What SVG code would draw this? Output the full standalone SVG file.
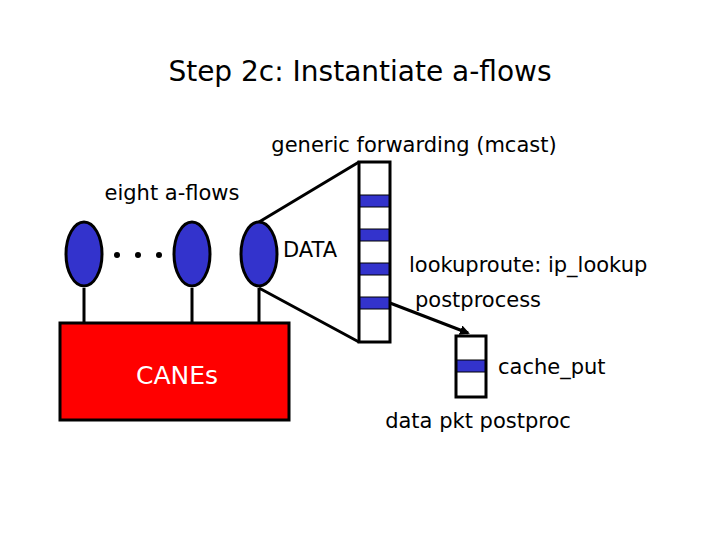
<svg xmlns="http://www.w3.org/2000/svg" width="720" height="540" viewBox="0 0 720 540">
<style>
text{font-family:"DejaVu Sans","Noto Sans",sans-serif;fill:#000}
.e{fill:#3333cc;stroke:#000;stroke-width:3}
.l{stroke:#000;stroke-width:3;fill:none}
.b{fill:#3333cc;stroke:#000;stroke-width:1}
</style>
<defs><marker id="a" markerWidth="10" markerHeight="10" refX="8" refY="5" orient="auto" markerUnits="userSpaceOnUse"><path d="M0,0L10,5L0,10z" fill="#000"/></marker></defs>
<rect width="720" height="540" fill="#fff"/>
<text x="360" y="81" font-size="28" text-anchor="middle">Step 2c: Instantiate a-flows</text>
<text x="414" y="152" font-size="21" text-anchor="middle">generic forwarding (mcast)</text>
<text x="172" y="200" font-size="21" text-anchor="middle">eight a-flows</text>
<g id="connectors">
<path class="l" d="M84,288V323M192,288V323M259,288V323M259,222L359,162M259,288L359,342"/>
<path class="l" d="M390,303L468,333" marker-end="url(#a)"/>
</g>
<g id="canes"><rect x="60" y="323" width="229" height="97" fill="#ff0000" stroke="#000" stroke-width="3"/>
<text x="177" y="384" font-size="25" text-anchor="middle" style="fill:#fff">CANEs</text></g>
<g id="flow1"><ellipse class="e" cx="84" cy="254" rx="18" ry="32"/></g>
<g id="dots"><circle cx="117" cy="255" r="3"/><circle cx="138" cy="255" r="3"/><circle cx="159" cy="255" r="3"/></g>
<g id="flow2"><ellipse class="e" cx="192" cy="254" rx="18" ry="32"/></g>
<g id="flow3"><ellipse class="e" cx="259" cy="254" rx="18" ry="32"/></g>
<text x="283" y="257" font-size="21">DATA</text>
<g id="stack"><rect x="359" y="162" width="31" height="180" fill="#fff" stroke="#000" stroke-width="3"/>
<rect class="b" x="360" y="195" width="29" height="12"/><rect class="b" x="360" y="229" width="29" height="12"/>
<rect class="b" x="360" y="263" width="29" height="12"/><rect class="b" x="360" y="297" width="29" height="12"/></g>
<text x="409" y="272" font-size="21">lookuproute: ip_lookup</text>
<text x="415" y="307" font-size="21">postprocess</text>
<g id="small"><rect x="456" y="336" width="30" height="61" fill="#fff" stroke="#000" stroke-width="3"/>
<rect class="b" x="457" y="360" width="28" height="12"/></g>
<text x="498" y="374" font-size="21">cache_put</text>
<text x="478" y="428" font-size="21" text-anchor="middle">data pkt postproc</text>
</svg>
